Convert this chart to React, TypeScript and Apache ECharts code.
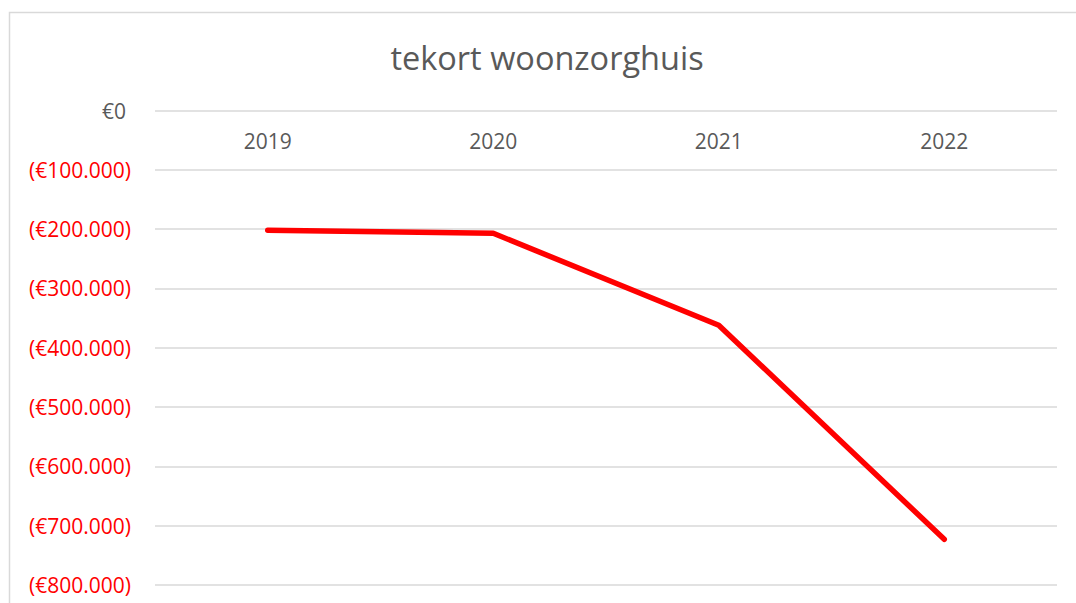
import React, { useEffect, useRef } from "react";
import * as echarts from "echarts";

const title = "tekort woonzorghuis";
const years = ["2019", "2020", "2021", "2022"];
const deficit = [-202000, -207000, -362000, -723000];
const yMin = -800000;
const yMax = 0;
const yStep = 100000;

const GRAY = "#595959";
const RED = "#FF0000";
const FONT = "'Open Sans', sans-serif";

function fmtEuro(v: number): string {
  if (v === 0) return "{z|€0}";
  const s = Math.abs(v)
    .toString()
    .replace(/\B(?=(\d{3})+(?!\d))/g, ".");
  return v < 0 ? "{n|(€" + s + ")}" : "{z|€" + s + "}";
}

export default function App() {
  const ref = useRef<HTMLDivElement>(null);
  useEffect(() => {
    if (!ref.current) return;
    const chart = echarts.init(ref.current, undefined, { renderer: "svg" });
    chart.setOption({
      animation: false,
      backgroundColor: "#ffffff",
      textStyle: { fontFamily: FONT },
      title: {
        text: title,
        left: 542,
        top: 36,
        textAlign: "center",
        textStyle: { color: GRAY, fontSize: 32.5, fontWeight: "normal", fontFamily: FONT },
      },
      graphic: [
        {
          type: "rect",
          shape: { x: 9.5, y: 12.5, width: 1200, height: 1000 },
          style: { fill: "none", stroke: "#d9d9d9", lineWidth: 1.5 },
          silent: true,
        },
      ],
      grid: { left: 155, right: 19, top: 110.5, bottom: 18, containLabel: false },
      xAxis: {
        type: "category",
        data: years,
        position: "top",
        boundaryGap: true,
        axisLine: { show: false },
        axisTick: { show: false },
        axisLabel: {
          inside: true,
          margin: 20,
          color: GRAY,
          fontSize: 21,
          fontFamily: FONT,
        },
        splitLine: { show: false },
      },
      yAxis: {
        type: "value",
        min: yMin,
        max: yMax,
        interval: yStep,
        axisLine: { show: false },
        axisTick: { show: false },
        splitLine: { show: true, lineStyle: { color: "#d9d9d9", width: 1.5 } },
        axisLabel: {
          margin: 24,
          fontSize: 21,
          fontFamily: FONT,
          formatter: (v: number) => fmtEuro(v),
          rich: {
            z: { color: GRAY, fontSize: 21, fontFamily: FONT, padding: [0, 5, 0, 0] },
            n: { color: RED, fontSize: 21, fontFamily: FONT },
          },
        },
      },
      series: [
        {
          type: "line",
          data: deficit,
          showSymbol: false,
          symbol: "none",
          lineStyle: { color: RED, width: 5.5, cap: "round", join: "round" },
        },
      ],
    });
    return () => chart.dispose();
  }, []);
  return (
    <div
      ref={ref}
      style={{ position: "absolute", left: 0, top: 0, width: 1076, height: 603 }}
    />
  );
}
